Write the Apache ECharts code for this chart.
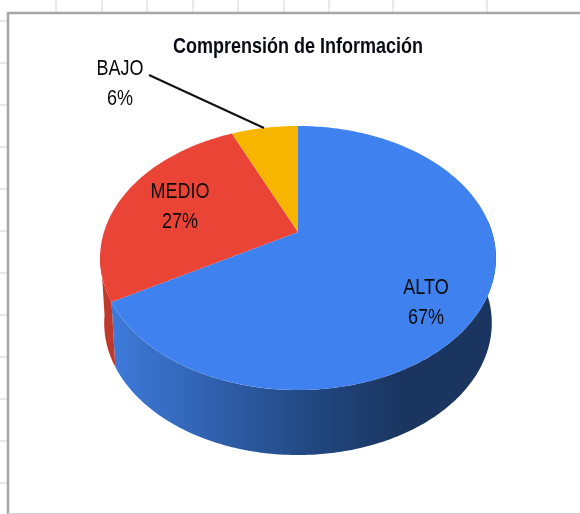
<!DOCTYPE html>
<html><head><meta charset="utf-8">
<style>html,body{margin:0;padding:0;background:#fff}#c{width:580px;height:514px;filter:blur(0.7px)}</style>
<script src="https://cdn.jsdelivr.net/npm/echarts@6/dist/echarts.min.js"></script>
</head><body><div id="c"></div>
<script>
const chartTitle = 'Comprensión de Información';
const categories = ['ALTO', 'MEDIO', 'BAJO'];
// Printed labels, as they read in the picture.
const percents = [67, 27, 6];
const sliceShares = [66.7, 26.7, 6.6];
const sheetColumnLines = [56, 102, 147, 193, 238, 284, 329, 393, 487];
const sheetRowLines = [21, 63, 105, 147, 189, 231, 273, 315, 357, 399, 441, 483];

const topColors = ['#3f82ef', '#e94435', '#f7b500'];
const wallColors = [null, '#bf3a2c', null];
const labelPos = [[426, 303], [180, 207], [120, 84]];

// perspective disc
const CX = 298, CY = 232, B = 194, A = 126.9, K = -0.197, DEPTH = 65, B2 = 190;
function pt(deg, lower) {
  const t = deg * Math.PI / 180, x = Math.sin(t), y = -Math.cos(t), w = 1 + K * y;
  return lower ? [CX + B2 * x / w, CY + DEPTH + A * y / w] : [CX + B * x / w, CY + A * y / w];
}
function arc(a, b, lower) {
  const out = [], n = Math.max(2, Math.ceil(Math.abs(b - a)));
  for (let i = 0; i <= n; i++) out.push(pt(a + (b - a) * i / n, lower));
  return out;
}
const total = sliceShares.reduce((s, v) => s + v, 0);
function spans(i) {
  let s = 0;
  for (let j = 0; j < i; j++) s += sliceShares[j];
  return [s / total * 360, (s + sliceShares[i]) / total * 360];
}

const blueWall = { type: 'linear', global: true, x: 114, y: 0, x2: 400, y2: 0, colorStops: [
  { offset: 0, color: '#3d7ad9' }, { offset: 0.3, color: '#3264b4' },
  { offset: 0.65, color: '#234a86' }, { offset: 1, color: '#1a3560' }] };

function renderItem(params, api) {
  const i = params.dataIndex, sp = spans(i), kids = [];
  if (i === 0) {
    kids.push({ type: 'polygon', z2: 1, shape: { points: arc(85, sp[1], false).concat(arc(sp[1], 85, true)) }, style: { fill: blueWall } });
  }
  if (wallColors[i]) {
    const end = Math.min(sp[1], 262);
    kids.push({ type: 'polygon', z2: 1, shape: { points: arc(sp[0], end, false).concat(arc(end, sp[0], true)) }, style: { fill: wallColors[i] } });
  }
  kids.push({ type: 'polygon', z2: 2, shape: { points: [[CX, CY]].concat(arc(sp[0], sp[1], false)) }, style: { fill: topColors[i] } });
  kids.push({
    type: 'text', z2: 5, x: labelPos[i][0], y: labelPos[i][1], scaleY: 1.22,
    style: { text: categories[i] + '\n' + percents[i] + '%', font: '18px "Liberation Sans"', fill: '#0a0a0a',
      align: 'center', verticalAlign: 'middle', lineHeight: 24 }
  });
  if (i === 2) {
    kids.push({ type: 'line', z2: 4, shape: { x1: 149, y1: 75, x2: 264, y2: 128 }, style: { stroke: '#111', lineWidth: 2 } });
  }
  return { type: 'group', children: kids };
}

const graphics = [];
sheetColumnLines.forEach(x => graphics.push({ type: 'line', silent: true, shape: { x1: x, y1: 0, x2: x, y2: 12 }, style: { stroke: '#d4d4d4', lineWidth: 1 } }));
sheetRowLines.forEach(y => graphics.push({ type: 'line', silent: true, shape: { x1: 0, y1: y, x2: 7, y2: y }, style: { stroke: '#d4d4d4', lineWidth: 1 } }));
graphics.push({ type: 'line', silent: true, shape: { x1: 8, y1: 13, x2: 580, y2: 13 }, style: { stroke: '#a6a6a6', lineWidth: 2.5 } });
graphics.push({ type: 'line', silent: true, shape: { x1: 8, y1: 12, x2: 8, y2: 514 }, style: { stroke: '#a6a6a6', lineWidth: 2.5 } });
graphics.push({ type: 'line', silent: true, shape: { x1: 8, y1: 513.5, x2: 580, y2: 513.5 }, style: { stroke: '#d0d0d0', lineWidth: 1 } });
graphics.push({ type: 'text', silent: true, x: 298, y: 47, scaleY: 1.2, style: { text: chartTitle, font: 'bold 18px "Liberation Sans"', fill: '#0a0a14', align: 'center', verticalAlign: 'middle' } });

const chart = echarts.init(document.getElementById('c'), null, { renderer: 'canvas', width: 580, height: 514 });
chart.setOption({
  animation: false,
  backgroundColor: '#fff',
  graphic: graphics,
  series: [{ type: 'custom', coordinateSystem: 'none', silent: true, data: sliceShares.map(v => [v]), renderItem }]
});
</script></body></html>
